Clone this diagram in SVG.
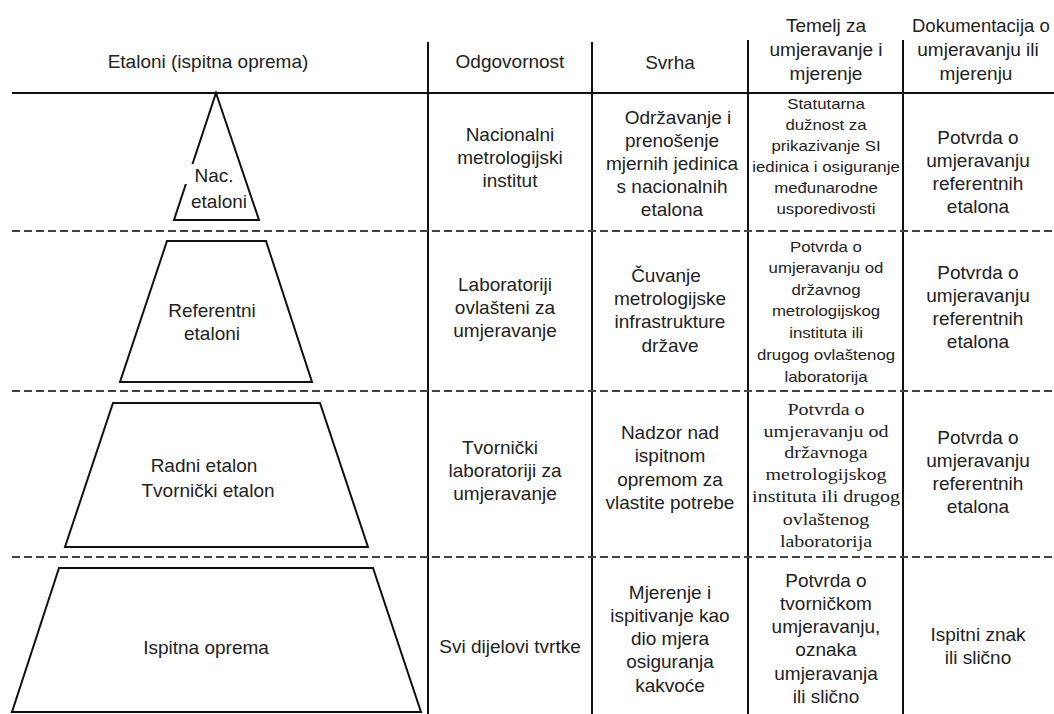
<svg xmlns="http://www.w3.org/2000/svg" width="1054" height="714" viewBox="0 0 1054 714">
<style>
  text { font-family: "Liberation Sans", Arial, sans-serif; font-size: 19px; fill: #222; text-anchor: middle; }
  .sm { font-size: 14px; }
  .serif { font-family: "Liberation Serif", "Times New Roman", serif; font-size: 16px; }
  .solid { stroke: #111; stroke-width: 2; fill: none; }
  .dash { stroke: #444; stroke-width: 2; stroke-dasharray: 8 4; fill: none; }
  .shape { stroke: #111; stroke-width: 2; fill: #fff; stroke-linejoin: miter; }
</style>
<rect width="1054" height="714" fill="#fff"/>

<g id="grid">
  <line class="solid" x1="12" y1="93" x2="1054" y2="93"/>
  <line class="solid" x1="428" y1="42" x2="428" y2="714"/>
  <line class="solid" x1="592" y1="42" x2="592" y2="714"/>
  <line class="solid" x1="748" y1="40" x2="748" y2="714"/>
  <line class="solid" x1="903" y1="40" x2="903" y2="714"/>
  <line class="dash" x1="12" y1="231" x2="1054" y2="231"/>
  <line class="dash" x1="12" y1="391" x2="1054" y2="391"/>
  <line class="dash" x1="12" y1="557" x2="1054" y2="557"/>
</g>

<g id="header">
  <text x="208" y="68">Etaloni (ispitna oprema)</text>
  <text x="510" y="68">Odgovornost</text>
  <text x="670" y="69">Svrha</text>
  <text x="826" y="32">Temelj za</text>
  <text x="826" y="56">umjeravanje i</text>
  <text x="826" y="80">mjerenje</text>
  <text x="912" y="32" style="text-anchor:start;font-size:18.5px">Dokumentacija o</text>
  <text x="978" y="56">umjeravanju ili</text>
  <text x="976" y="80">mjerenju</text>
</g>

<g id="node-nac">
  <polygon class="shape" points="216,93 259,220 174,220"/>
  <rect x="184" y="164" width="50" height="20" fill="#fff"/>
  <text x="214" y="182">Nac.</text>
  <text x="219" y="208">etaloni</text>
</g>
<g id="node-ref">
  <polygon class="shape" points="167,241 266,241 312,382 120,382"/>
  <text x="212" y="317">Referentni</text>
  <text x="212" y="340">etaloni</text>
</g>
<g id="node-radni">
  <polygon class="shape" points="113,403 320,403 368,547 65,547"/>
  <text x="204" y="472">Radni etalon</text>
  <text x="208" y="497">Tvornički etalon</text>
</g>
<g id="node-ispitna">
  <polygon class="shape" points="59,568 373,568 421,712 12,712"/>
  <text x="206" y="654">Ispitna oprema</text>
</g>

<g id="row1">
  <text x="510" y="141">Nacionalni</text>
  <text x="510" y="164">metrologijski</text>
  <text x="510" y="187">institut</text>
  <text x="678" y="124">Održavanje i</text>
  <text x="672" y="147">prenošenje</text>
  <text x="672" y="170">mjernih jedinica</text>
  <text x="672" y="193">s nacionalnih</text>
  <text x="672" y="216">etalona</text>
  <g transform="translate(826 0) scale(1.2 1)">
    <text class="sm" x="0" y="109">Statutarna</text>
    <text class="sm" x="0" y="130">dužnost za</text>
    <text class="sm" x="0" y="151">prikazivanje SI</text>
    <text class="sm" x="0" y="172">iedinica i osiguranje</text>
    <text class="sm" x="0" y="193">međunarodne</text>
    <text class="sm" x="0" y="214">usporedivosti</text>
  </g>
  <text x="978" y="144">Potvrda o</text>
  <text x="978" y="167">umjeravanju</text>
  <text x="978" y="190">referentnih</text>
  <text x="978" y="213">etalona</text>
</g>

<g id="row2">
  <text x="505" y="291">Laboratoriji</text>
  <text x="505" y="314">ovlašteni za</text>
  <text x="505" y="337">umjeravanje</text>
  <text x="666" y="282">Čuvanje</text>
  <text x="670" y="305">metrologijske</text>
  <text x="670" y="328">infrastrukture</text>
  <text x="670" y="352">države</text>
  <g transform="translate(826 0) scale(1.2 1)">
    <text class="sm" x="0" y="252">Potvrda o</text>
    <text class="sm" x="0" y="273">umjeravanju od</text>
    <text class="sm" x="0" y="295">državnog</text>
    <text class="sm" x="0" y="316">metrologijskog</text>
    <text class="sm" x="0" y="338">instituta ili</text>
    <text class="sm" x="0" y="360">drugog ovlaštenog</text>
    <text class="sm" x="0" y="382">laboratorija</text>
  </g>
  <text x="978" y="279">Potvrda o</text>
  <text x="978" y="302">umjeravanju</text>
  <text x="978" y="325">referentnih</text>
  <text x="978" y="348">etalona</text>
</g>

<g id="row3">
  <text x="500" y="454">Tvornički</text>
  <text x="505" y="477">laboratoriji za</text>
  <text x="505" y="500">umjeravanje</text>
  <text x="670" y="439">Nadzor nad</text>
  <text x="670" y="462">ispitnom</text>
  <text x="670" y="486">opremom za</text>
  <text x="670" y="509">vlastite potrebe</text>
  <g transform="translate(826 0) scale(1.25 1)">
    <text class="serif" x="0" y="415">Potvrda o</text>
    <text class="serif" x="0" y="437">umjeravanju od</text>
    <text class="serif" x="0" y="458">državnoga</text>
    <text class="serif" x="0" y="480">metrologijskog</text>
    <text class="serif" x="0" y="502">instituta ili drugog</text>
    <text class="serif" x="0" y="525">ovlaštenog</text>
    <text class="serif" x="0" y="547">laboratorija</text>
  </g>
  <text x="978" y="444">Potvrda o</text>
  <text x="978" y="467">umjeravanju</text>
  <text x="978" y="490">referentnih</text>
  <text x="978" y="513">etalona</text>
</g>

<g id="row4">
  <text x="510" y="653">Svi dijelovi tvrtke</text>
  <text x="670" y="599">Mjerenje i</text>
  <text x="670" y="622">ispitivanje kao</text>
  <text x="670" y="645">dio mjera</text>
  <text x="670" y="668">osiguranja</text>
  <text x="670" y="692">kakvoće</text>
  <text x="826" y="587">Potvrda o</text>
  <text x="826" y="610">tvorničkom</text>
  <text x="826" y="633">umjeravanju,</text>
  <text x="826" y="656">oznaka</text>
  <text x="826" y="680">umjeravanja</text>
  <text x="826" y="703">ili slično</text>
  <text x="978" y="641">Ispitni znak</text>
  <text x="978" y="664">ili slično</text>
</g>
</svg>
